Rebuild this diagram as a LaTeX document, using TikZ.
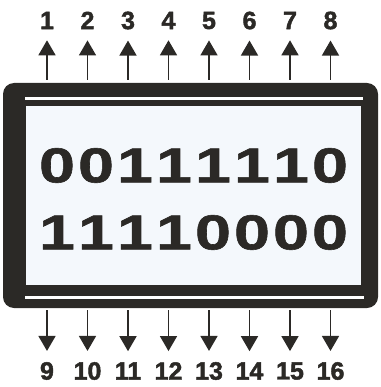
\documentclass[tikz,border=0pt]{standalone}
\usepackage{fontspec}
\setmainfont{Liberation Sans}
\newfontfamily\bitfont[FakeStretch=1.32,FakeBold=1.2]{Liberation Sans}
\newfontfamily\pinfont[FakeBold=1.8]{Liberation Sans}
\usetikzlibrary{arrows.meta}
\definecolor{lcddark}{HTML}{2B2926}
\definecolor{lcdpanel}{HTML}{F4F8FC}

\begin{document}
\begin{tikzpicture}[
  x=1pt,y=-1pt,
  pinlbl/.style={inner sep=0pt,text=lcddark,font=\pinfont\fontsize{25}{25}\selectfont\bfseries},
  bit/.style={inner sep=0pt,text=lcddark,font=\bitfont\fontsize{49}{49}\selectfont\bfseries},
  arr/.style={-{Triangle[length=15pt,width=17pt]},line width=1.5pt,draw=lcddark,shorten >=11pt}
]
\useasboundingbox (0,0) rectangle (380,387);
% frame and screen
\fill[lcddark,rounded corners=11pt] (3,83) rectangle (378,308);
\fill[white] (25,97) rectangle (363,100);
\fill[white] (25,296) rectangle (364,299);
\fill[lcdpanel] (26,106) rectangle (361,285);
% the two rows of bits
\foreach \b [count=\i] in {0,0,1,1,1,1,1,0}
  \node[bit] (a\i) at (18+39*\i,165.5) {\b};
\foreach \b [count=\i] in {1,1,1,1,0,0,0,0}
  \node[bit] (b\i) at (18+39*\i,232.5) {\b};
% pins
\foreach \i in {1,...,8}{
  \pgfmathtruncatemacro\n{\i+8}
  \node[pinlbl] (up\i) at (6.5+40.5*\i,20.5) {\i};
  \node[pinlbl] (dn\i) at (6.5+40.5*\i,371) {\n};
  \coordinate (upfoot\i) at (6.5+40.5*\i,80);
  \coordinate (dnfoot\i) at (6.5+40.5*\i,310);
  \draw[arr] (upfoot\i) -- (up\i);
  \draw[arr] (dnfoot\i) -- (dn\i);
}
\end{tikzpicture}
\end{document}
